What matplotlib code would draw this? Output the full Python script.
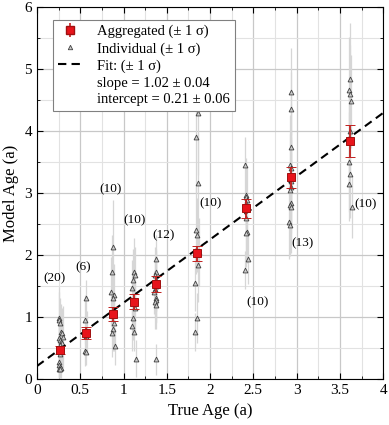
import matplotlib
matplotlib.use("Agg")
import numpy as np
import matplotlib.pyplot as plt
from matplotlib.lines import Line2D
from matplotlib.ticker import MultipleLocator

plt.rcParams['font.family'] = ['Liberation Serif', 'DejaVu Serif']

# aggregated points (true age, model age, 1 sigma)
agg_true = [0.27, 0.57, 0.88, 1.12, 1.37, 1.85, 2.42, 2.93, 3.62]
agg_model = [0.47, 0.74, 1.05, 1.25, 1.53, 2.03, 2.75, 3.25, 3.84]
agg_err = [0.07, 0.10, 0.11, 0.12, 0.13, 0.12, 0.15, 0.17, 0.26]
counts = [20, 6, 10, 10, 12, 10, 10, 13, 10]

# individual points per group
ind_true = [
    [0.25, 0.26, 0.27, 0.28, 0.29, 0.30, 0.26, 0.27, 0.28, 0.29,
     0.27, 0.26, 0.28, 0.27, 0.25, 0.26, 0.27, 0.28, 0.26, 0.27],
    [0.57, 0.56, 0.58, 0.57, 0.56, 0.57],
    [0.88, 0.87, 0.86, 0.89, 0.88, 0.87, 0.89, 0.88, 0.87, 0.90],
    [1.12, 1.13, 1.11, 1.10, 1.12, 1.13, 1.11, 1.10, 1.12, 1.14],
    [1.38, 1.37, 1.36, 1.38, 1.37, 1.36, 1.35, 1.38, 1.37, 1.36, 1.38, 1.37],
    [1.86, 1.84, 1.86, 1.84, 1.85, 1.87, 1.86, 1.83, 1.85, 1.83],
    [2.40, 2.42, 2.41, 2.43, 2.42, 2.41, 2.43, 2.42, 2.44, 2.40],
    [2.93, 2.93, 2.94, 2.92, 2.93, 2.94, 2.93, 2.92, 2.93, 2.92, 2.94, 2.91, 2.92],
    [3.62, 3.61, 3.62, 3.63, 3.62, 3.60, 3.61, 3.62, 3.60, 3.64],
]
ind_model = [
    [0.98, 0.95, 0.90, 0.76, 0.74, 0.68, 0.66, 0.63, 0.60, 0.58,
     0.55, 0.50, 0.45, 0.40, 0.27, 0.23, 0.20, 0.18, 0.17, 0.16],
    [1.30, 0.96, 0.75, 0.70, 0.46, 0.43],
    [2.13, 1.73, 1.41, 1.35, 1.30, 1.05, 0.90, 0.80, 0.75, 0.53],
    [1.72, 1.68, 1.60, 1.47, 1.28, 1.15, 0.98, 0.85, 0.76, 0.33],
    [1.93, 1.72, 1.68, 1.60, 1.50, 1.45, 1.40, 1.30, 1.27, 1.25, 1.20, 0.32],
    [4.29, 3.90, 3.16, 2.40, 2.32, 2.05, 1.84, 1.55, 0.98, 0.76],
    [3.45, 2.97, 2.94, 2.88, 2.84, 2.60, 2.37, 2.35, 1.93, 1.76],
    [4.63, 4.35, 3.74, 3.45, 3.40, 3.20, 3.10, 3.05, 2.84, 2.80, 2.77, 2.53, 2.48],
    [4.84, 4.66, 4.59, 4.48, 4.00, 3.85, 3.50, 3.30, 3.15, 2.77],
]
ind_err = [
    [0.50, 0.45, 0.40, 0.45, 0.40, 0.50, 0.35, 0.40, 0.45, 0.40,
     0.35, 0.40, 0.30, 0.35, 0.25, 0.20, 0.20, 0.18, 0.15, 0.15],
    [0.30, 0.40, 0.35, 0.30, 0.25, 0.20],
    [0.75, 0.60, 0.55, 0.50, 0.45, 0.40, 0.45, 0.35, 0.40, 0.30],
    [0.55, 0.45, 0.50, 0.45, 0.40, 0.40, 0.35, 0.40, 0.30, 0.30],
    [0.40, 0.35, 0.45, 0.50, 0.40, 0.45, 0.35, 0.40, 0.35, 0.45, 0.40, 0.25],
    [1.00, 0.90, 0.80, 0.70, 0.60, 0.55, 0.60, 0.45, 0.40, 0.30],
    [0.45, 0.60, 0.50, 0.55, 0.45, 0.60, 0.50, 0.55, 0.40, 0.30],
    [0.70, 0.60, 0.70, 0.80, 0.60, 0.70, 0.75, 0.90, 0.80, 0.70, 0.60, 0.60, 0.50],
    [0.90, 0.85, 0.80, 0.75, 0.70, 0.75, 0.80, 0.70, 0.60, 0.50],
]

slope, slope_err = 1.02, 0.04
intercept, intercept_err = 0.21, 0.06

# where the "(n)" labels sit
label_pos = [(0.20, 1.62), (0.53, 1.80), (0.85, 3.06), (1.13, 2.56), (1.46, 2.32),
             (2.01, 2.84), (2.55, 1.24), (3.07, 2.19), (3.80, 2.82)]

fig = plt.figure(figsize=(3.89, 4.25), dpi=100)
ax = fig.add_axes([0.095, 0.108, 0.89, 0.876])

for xs, ys, es in zip(ind_true, ind_model, ind_err):
    ax.errorbar(xs, ys, yerr=es, fmt='^', ms=3.5, mfc='#cccccc', mec='#404040',
                mew=0.6, ecolor='#d6d6d6', elinewidth=0.9, capsize=0, zorder=3)

ax.axline((0, intercept), slope=slope, color='black', ls='--', lw=1.5,
          dashes=(4, 2.5), zorder=4)

ax.errorbar(agg_true, agg_model, yerr=agg_err, fmt='s', ms=6, mfc='#e8141b',
            mec='#a01010', mew=0.7, ecolor='#c0201e', elinewidth=1.3,
            capsize=3.5, capthick=1.3, zorder=5)

for (lx, ly), n in zip(label_pos, counts):
    ax.text(lx, ly, '(%d)' % n, ha='center', va='center', fontsize=9.5)

ax.set_xlim(0, 4)
ax.set_ylim(0, 6)
ax.xaxis.set_major_locator(MultipleLocator(0.5))
ax.xaxis.set_minor_locator(MultipleLocator(0.25))
ax.yaxis.set_major_locator(MultipleLocator(1))
ax.yaxis.set_minor_locator(MultipleLocator(0.5))
ax.xaxis.set_major_formatter(plt.FuncFormatter(lambda v, p: '%g' % v))
ax.grid(which='major', color='#c8c8c8', lw=0.9, zorder=0)
ax.grid(which='minor', color='#e2e2e2', lw=0.8, zorder=0)
ax.set_axisbelow(True)
ax.tick_params(which='both', direction='in', top=True, right=True, labelsize=11)
ax.tick_params(which='major', length=4)
ax.tick_params(which='minor', length=2)
for s in ax.spines.values():
    s.set_linewidth(0.8)

ax.set_xlabel('True Age (a)', fontsize=12)
ax.set_ylabel('Model Age (a)', fontsize=12)

agg_h = ax.errorbar([], [], yerr=[], fmt='s', ms=6, mfc='#e8141b', mec='#a01010',
                    ecolor='#c0201e', capsize=3, elinewidth=1.2)
ind_h = Line2D([], [], marker='^', ls='none', ms=3.2, mfc='#cccccc', mec='#404040',
               mew=0.6)
fit_h = Line2D([], [], color='black', ls='--', lw=1.5, dashes=(4, 2.5))
blank = Line2D([], [], ls='none')
leg = ax.legend([agg_h, ind_h, fit_h, blank, blank],
                ['Aggregated (± 1 σ)', 'Individual (± 1 σ)', 'Fit: (± 1 σ)',
                 'slope = %.2f ± %.2f' % (slope, slope_err),
                 'intercept = %.2f ± %.2f' % (intercept, intercept_err)],
                loc='upper left', bbox_to_anchor=(0.046, 0.965), borderaxespad=0,
                fontsize=10.5, fancybox=False, framealpha=1, edgecolor='#808080',
                handlelength=1.6, labelspacing=0.25, borderpad=0.35,
                handletextpad=1.1)
leg.get_frame().set_linewidth(0.8)

fig.savefig('out.png', dpi=100)
